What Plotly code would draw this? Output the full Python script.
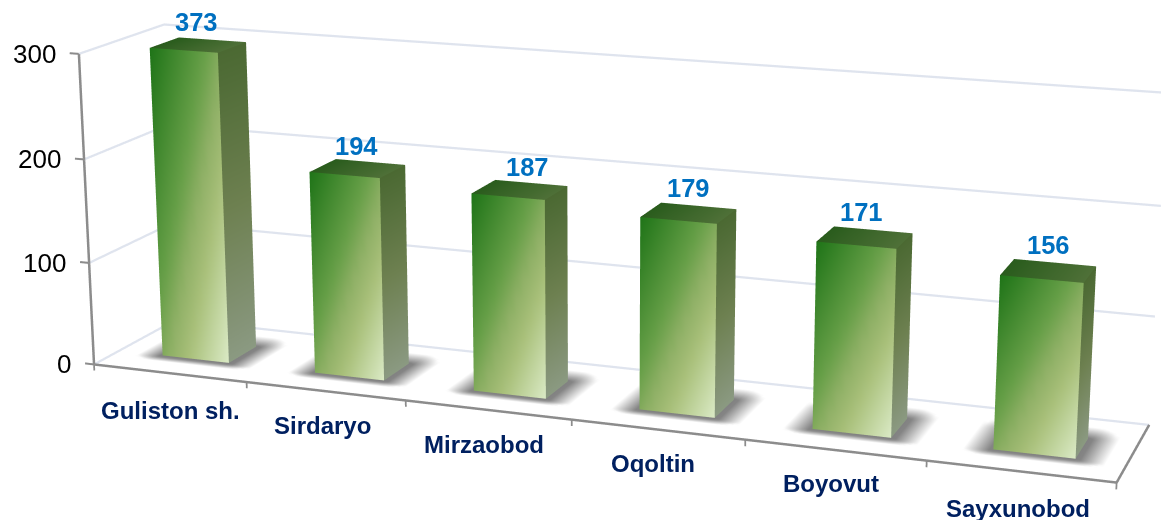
import numpy as np
import plotly.graph_objects as go

categories = ["Guliston sh.", "Sirdaryo", "Mirzaobod", "Oqoltin", "Boyovut", "Sayxunobod"]
values = [373, 194, 187, 179, 171, 156]
y_ticks = [0, 100, 200, 300]
axis_max = 300

# label nudges in pixels (x, up)
value_nudge = [(-2, -1), (-1, -2), (8, -1), (0, 1), (-3, 1), (0, 2)]
name_nudge = [(1, 0), (-3, 3), (-4, 2), (-5, 3), (-4, 4), (-3, 0)]

W, H = 1161, 520
H2 = 2327  # tall viewport = long lens, as in the reference; the page shows its central band
CENTER_Y = 260
RX, RY, RZ = (-0.3, 6.3), (-0.3, 1.1), (-15, 340)
SCALE = (0.4, 0.40187, 0.00247)
EYE = (2.08473, -5.67336, 1.53908)
LOOK = (-0.05136, 0.03314, -0.09152)
UP = (-0.04653, 0.12961, 1)
aspect = [SCALE[0] * (RX[1] - RX[0]), SCALE[1] * (RY[1] - RY[0]), SCALE[2] * (RZ[1] - RZ[0])]

def hexrgb(h):
    return np.array([int(h[i:i + 2], 16) for i in (1, 3, 5)], float)

def ramp(stops, t):
    ts = [s[0] for s in stops]
    cs = np.array([hexrgb(s[1]) for s in stops])
    return [float(np.interp(t, ts, cs[:, k])) for k in range(3)]

FRONT = [(0, "#1f7418"), (.4, "#669f47"), (.55, "#8fb066"), (.7, "#a9c07a"), (1, "#dbeac6")]
SIDE = [(0, "#4b6932"), (.5, "#6d8050"), (1, "#8b9a82")]
TOP = [(0, "#2a5c1d"), (1, "#4f7038")]

def patch(P00, P10, P01, P11, colf, n=10):
    vs, cs, tri = [], [], []
    for j in range(n + 1):
        for i in range(n + 1):
            u, v = i / n, j / n
            vs.append((1 - u) * (1 - v) * P00 + u * (1 - v) * P10 + (1 - u) * v * P01 + u * v * P11)
            cs.append(colf(u, v))
    for j in range(n):
        for i in range(n):
            a = j * (n + 1) + i
            tri += [(a, a + 1, a + n + 1), (a + 1, a + n + 2, a + n + 1)]
    return np.array(vs), cs, tri

BW, Y0, Y1, XC = 0.22, 0.30, 0.65, 0.51
fig = go.Figure()

def add_mesh(parts):
    V, Cc, T, off = [], [], [], 0
    for vs, cs, tri in parts:
        V.append(vs); Cc += cs; T += [(a + off, b + off, c + off) for a, b, c in tri]; off += len(vs)
    V = np.vstack(V); T = np.array(T)
    fig.add_trace(go.Mesh3d(x=V[:, 0], y=V[:, 1], z=V[:, 2], i=T[:, 0], j=T[:, 1], k=T[:, 2],
                            vertexcolor=["rgb(%d,%d,%d)" % tuple(c) for c in Cc], flatshading=False,
                            lighting=dict(ambient=1, diffuse=0, specular=0, roughness=1, fresnel=0),
                            hoverinfo="skip", showscale=False))

def line(xs, ys, zs, color, width):
    fig.add_trace(go.Scatter3d(x=xs, y=ys, z=zs, mode="lines", line=dict(color=color, width=width),
                               hoverinfo="skip", showlegend=False))

for z in y_ticks:
    line([0, 0, 6], [0, 1, 1], [z, z, z], "#dfe4ee", 4.5)
line([0, 0], [0, 0], [0, axis_max], "#8c8c8c", 5)
line([0, 6, 6], [0, 0, 1], [0, 0, 0], "#8c8c8c", 5)
for z in y_ticks:
    line([-0.06, 0], [0, 0], [z, z], "#8c8c8c", 4)
for i in range(7):
    line([i, i], [0, 0], [-6, 0], "#8c8c8c", 3.5)

annotations = []
for z in y_ticks:
    annotations.append(dict(x=0, y=0, z=z, text=str(z), showarrow=False, xanchor="right", xshift=-21, yshift=0,
                            font=dict(family="Liberation Sans", size=26, color="#000000")))

for i, (name, val) in enumerate(zip(categories, values)):
    h = min(val, axis_max)
    x0, x1 = i + XC - BW, i + XC + BW
    A = lambda x, y, z: np.array([x, y, z], float)
    ex, ey0, ey1 = 0.16, 0.09, 0.22
    def sh(u, v):
        x = -ex + u * (x1 - x0 + 2 * ex); y = -ey0 + v * (Y1 - Y0 + ey0 + ey1)
        dx = max(0, -x, x - (x1 - x0)) / ex
        dy = max(-y / ey0, (y - (Y1 - Y0)) / ey1, 0)
        s = min(1, 1.15 * max(0, 1 - np.hypot(dx, dy)))
        g = 255 - s * 125
        return [g, g, g]
    add_mesh([patch(A(x0 - ex, Y0 - ey0, -1), A(x1 + ex, Y0 - ey0, -1), A(x0 - ex, Y1 + ey1, -1), A(x1 + ex, Y1 + ey1, -1), sh, 28)])
    front = patch(A(x0, Y0, 0), A(x1, Y0, 0), A(x0, Y0, h), A(x1, Y0, h), lambda u, v: ramp(FRONT, .5 * u + .5 * (1 - v)))
    side = patch(A(x1, Y0, 0), A(x1, Y1, 0), A(x1, Y0, h), A(x1, Y1, h), lambda u, v: ramp(SIDE, 1 - v))
    top = patch(A(x0, Y0, h), A(x1, Y0, h), A(x0, Y1, h), A(x1, Y1, h), lambda u, v: ramp(TOP, u))
    add_mesh([front, side, top])
    annotations.append(dict(x=i + XC, y=(Y0 + Y1) / 2, z=h, text=str(val), showarrow=False,
                            xshift=value_nudge[i][0], yshift=24 + value_nudge[i][1],
                            font=dict(family="Liberation Sans", size=25.5, color="#0070c0", weight="bold")))
    annotations.append(dict(x=i + .5, y=0, z=0, text=name, showarrow=False,
                            xshift=name_nudge[i][0], yshift=-37 + name_nudge[i][1],
                            font=dict(family="Liberation Sans", size=24, color="#002060", weight="bold")))

TOPPX = CENTER_Y - H2 / 2
fig.update_layout(
    width=W, height=H2, margin=dict(l=0, r=0, t=0, b=0), paper_bgcolor="white", showlegend=False,
    scene=dict(
        domain=dict(x=[0, 1], y=[0, 1]), bgcolor="white", aspectmode="manual",
        aspectratio=dict(x=aspect[0], y=aspect[1], z=aspect[2]),
        camera=dict(eye=dict(x=EYE[0], y=EYE[1], z=EYE[2]),
                    center=dict(x=LOOK[0], y=LOOK[1], z=LOOK[2]),
                    up=dict(x=UP[0], y=UP[1], z=UP[2]),
                    projection=dict(type="perspective")),
        xaxis=dict(visible=False, range=list(RX)), yaxis=dict(visible=False, range=list(RY)),
        zaxis=dict(visible=False, range=list(RZ)),
        annotations=annotations,
    ),
)
post = ("document.body.style.margin='0';document.documentElement.style.overflow='hidden';document.body.style.overflow='hidden';"
        "var g=document.querySelector('.plotly-graph-div');g.style.position='fixed';g.style.left='0px';g.style.top='%.1fpx';" % TOPPX)
fig.write_html("out.html", post_script=post)
